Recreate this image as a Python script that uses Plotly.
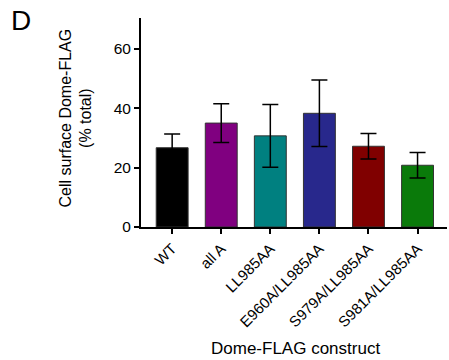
import plotly.graph_objects as go

categories = ["WT", "all A", "LL985AA", "E960A/LL985AA", "S979A/LL985AA", "S981A/LL985AA"]
means = [26.7, 35.0, 30.7, 38.3, 27.2, 20.8]
errors = [4.6, 6.5, 10.6, 11.2, 4.3, 4.3]
colors = ["#000000", "#800080", "#008080", "#28288C", "#800000", "#0A7A0A"]
y_ticks = [0, 20, 40, 60]

font_family = "Liberation Sans, Arial, sans-serif"

# plot area geometry in pixels (for placing annotations)
L, R, T, B = 141, 2, 18, 133
PW, PH = 449 - L - R, 360 - T - B


def px_to_paper(px, py):
    return (px - L) / PW, (360 - B - py) / PH


fig = go.Figure()
fig.add_trace(go.Bar(
    x=list(range(len(categories))),
    y=means,
    width=0.65,
    marker=dict(color=colors, line=dict(color="#333333", width=1)),
    error_y=dict(type="data", array=errors, visible=True, color="#000000",
                 thickness=1.5, width=8),
    showlegend=False,
))

dx, dy = px_to_paper(21, 21)
yx, yy = px_to_paper(75, 118.5)
xx, xy = px_to_paper(295, 348)

fig.update_layout(
    width=449, height=360,
    margin=dict(l=L, r=R, t=T, b=B),
    plot_bgcolor="white", paper_bgcolor="white",
    font=dict(family=font_family, color="#000000"),
    xaxis=dict(
        range=[-0.635, 5.6],
        tickmode="array",
        tickvals=list(range(len(categories))),
        ticktext=categories,
        tickangle=-45,
        ticks="outside", ticklen=5, tickwidth=1.5, tickcolor="#000000",
        showline=True, linecolor="#000000", linewidth=2,
        showgrid=False, zeroline=False,
        tickfont=dict(size=15, family=font_family),
    ),
    yaxis=dict(
        range=[0, 70.4],
        tickmode="array",
        tickvals=y_ticks,
        ticktext=[str(v) for v in y_ticks],
        ticks="outside", ticklen=5, tickwidth=1.5, tickcolor="#000000",
        showline=True, linecolor="#000000", linewidth=2,
        showgrid=False, zeroline=False,
        tickfont=dict(size=15.5, family=font_family),
    ),
    annotations=[
        dict(text="D", x=dx, y=dy, xref="paper", yref="paper", showarrow=False,
             font=dict(size=28, family=font_family), xanchor="center", yanchor="middle"),
        dict(text="Cell surface Dome-FLAG<br>(% total)", x=yx, y=yy,
             xref="paper", yref="paper", showarrow=False, textangle=-90,
             font=dict(size=16, family=font_family), xanchor="center", yanchor="middle"),
        dict(text="Dome-FLAG construct", x=xx, y=xy, xref="paper", yref="paper",
             showarrow=False, font=dict(size=17, family=font_family),
             xanchor="center", yanchor="middle"),
    ],
)

fig.write_html("out.html", config={"displayModeBar": False},
               post_script="document.body.style.margin='0';")
